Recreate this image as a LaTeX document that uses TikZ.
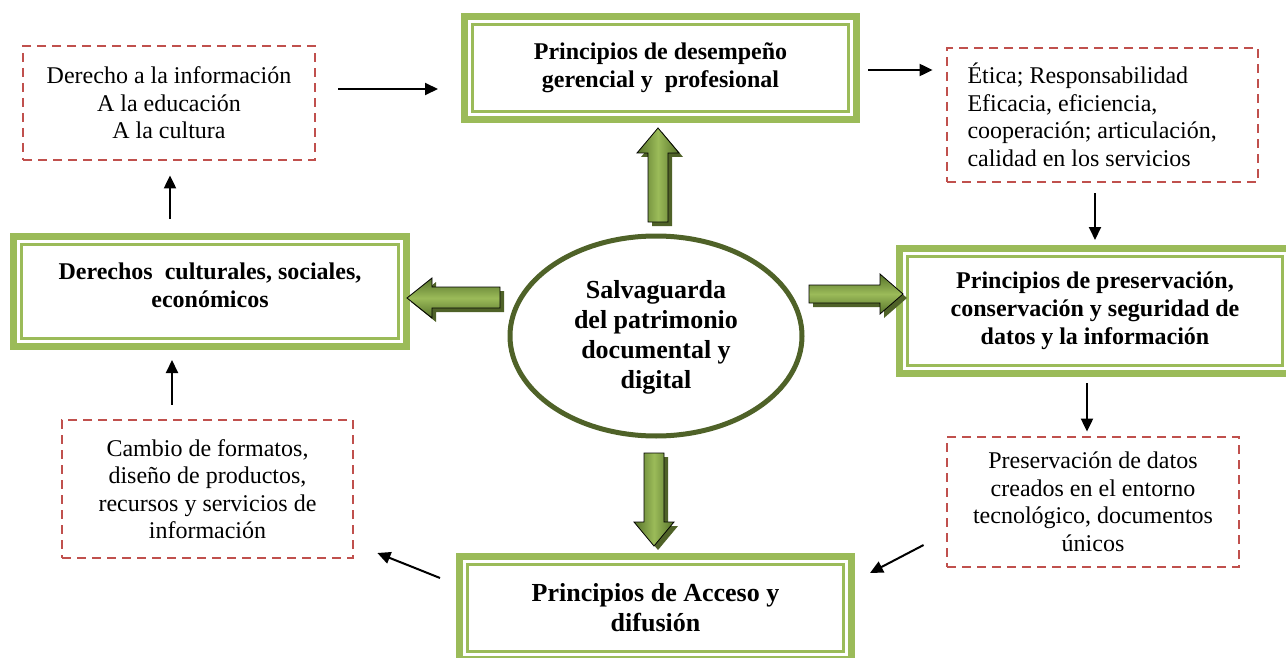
\documentclass[tikz,border=0pt]{standalone}
\usepackage{fontspec}
\setmainfont{Liberation Serif}
\usetikzlibrary{arrows.meta,shapes.geometric}
\definecolor{framegreen}{HTML}{9BBB59}
\definecolor{ellgreen}{HTML}{4F6228}
\definecolor{dashred}{HTML}{C0504D}
\definecolor{ardark}{HTML}{56722A}
\definecolor{arlight}{HTML}{9BBB59}
\begin{document}
\begin{tikzpicture}[x=1pt,y=-1pt,
  frame/.style={draw=framegreen, line width=7pt, fill=white, inner sep=0pt, align=center,
    font=\fontsize{24pt}{28pt}\selectfont\bfseries},
  innerframe/.style={draw=framegreen, line width=2.5pt},
  dbox/.style={draw=dashred, line width=2.8pt, dash pattern=on 9pt off 6pt, inner sep=0pt,
    font=\fontsize{24pt}{27.5pt}\selectfont},
  conn/.style={line width=2pt, -{Triangle[length=13pt,width=12pt]}},
  arrshadow/.style={fill=ellgreen},
  arrbody/.style={draw=black, line width=0.8pt},
  vshade/.style={left color=ardark, right color=ardark, middle color=arlight},
  hshade/.style={top color=ardark, bottom color=ardark, middle color=arlight},
]
\useasboundingbox (0,0) rectangle (1286,658);

% frames
\node[frame, minimum width=392pt, minimum height=103pt] (des) at (660.5,68)
  {Principios de desempeño\\gerencial y\ \ profesional};
\node[frame, minimum width=393pt, minimum height=110pt] (der) at (210,291.5)
  {Derechos\ \ culturales, sociales,\\económicos\\[-16pt]};
\node[frame, minimum width=391pt, minimum height=125pt] (pres) at (1095,311)
  {Principios de preservación,\\conservación y seguridad de\\datos y la información};
\node[frame, minimum width=392pt, minimum height=103pt, font=\fontsize{26pt}{30pt}\selectfont\bfseries] (acc) at (655.5,608)
  {Principios de Acceso y\\difusión};
\foreach \n in {des,der,pres,acc}
  \draw[innerframe] ([shift={(11.5pt,-11.5pt)}]\n.north west) rectangle ([shift={(-11.5pt,11.5pt)}]\n.south east);

% central ellipse
\node[ellipse, draw=ellgreen, line width=5pt, fill=white, minimum width=292pt, minimum height=200pt, inner sep=0pt] (ell) at (656,336) {};
\node[font=\fontsize{26pt}{30pt}\selectfont\bfseries, align=center, inner sep=0pt] (elltxt) at (656,337)
  {Salvaguarda\\del patrimonio\\documental y\\digital};

% dashed boxes
\node[dbox, minimum width=292pt, minimum height=114pt, align=center] (tl) at (169,103)
  {Derecho a la información\\A la educación\\A la cultura};
\node[dbox, minimum width=311pt, minimum height=134pt, text width=270pt, align=flush left] (tr) at (1102.5,115)
  {Ética; Responsabilidad\\Eficacia, eficiencia,\\cooperación; articulación,\\calidad en los servicios};
\node[dbox, minimum width=292pt, minimum height=130pt, align=center] (br) at (1093,502)
  {Preservación de datos\\creados en el entorno\\tecnológico, documentos\\únicos};
\node[dbox, minimum width=291pt, minimum height=138pt, align=center] (bl) at (207.5,489)
  {Cambio de formatos,\\diseño de productos,\\recursos y servicios de\\información};

% black connectors
\draw[conn] ([xshift=22pt,yshift=14pt]tl.east) -- ([xshift=-23pt,yshift=-21pt]des.west);
\draw[conn] ([xshift=8pt,yshift=-2pt]des.east) -- ([xshift=-13pt,yshift=45pt]tr.west);
\draw[conn] ([xshift=-7.5pt,yshift=-10pt]tr.south) -- ([yshift=5pt]pres.north);
\draw[conn] ([xshift=-8pt,yshift=-6pt]pres.south) -- ([xshift=-6pt,yshift=4pt]br.north);
\draw[conn] ([xshift=-22pt,yshift=-43pt]br.west) -- ([xshift=15pt,yshift=35pt]acc.east);
\draw[conn] ([xshift=-16pt,yshift=30pt]acc.west) -- ([xshift=23pt,yshift=-64pt]bl.east);
\draw[conn] ([xshift=-35.5pt,yshift=14pt]bl.north) -- ([xshift=-38pt,yshift=-10pt]der.south);
\draw[conn] ([xshift=-40pt,yshift=14pt]der.north) -- ([xshift=1pt,yshift=-14pt]tl.south);

% green block arrows (shadow, then body)
\def\uparr{(648,222) -- (648,153) -- (637,153) -- (658,128) -- (679,153) -- (668,153) -- (668,222) -- cycle}
\def\downarr{(644,453) -- (664,453) -- (664,522) -- (674,522) -- (654,546) -- (634,522) -- (644,522) -- cycle}
\def\rightarr{(809,285) -- (880,285) -- (880,274) -- (903,294) -- (880,314) -- (880,303) -- (809,303) -- cycle}
\def\leftarr{(500,287) -- (432,287) -- (432,278) -- (407,298) -- (432,318) -- (432,308) -- (500,308) -- cycle}
\fill[arrshadow, shift={(4pt,-4pt)}] \uparr;
\path[arrbody, vshade] \uparr;
\fill[arrshadow, shift={(4pt,-4pt)}] \downarr;
\path[arrbody, vshade] \downarr;
\fill[arrshadow, shift={(4pt,-4pt)}] \rightarr;
\path[arrbody, hshade] \rightarr;
\fill[arrshadow, shift={(4pt,-4pt)}] \leftarr;
\path[arrbody, hshade] \leftarr;
\end{tikzpicture}
\end{document}
